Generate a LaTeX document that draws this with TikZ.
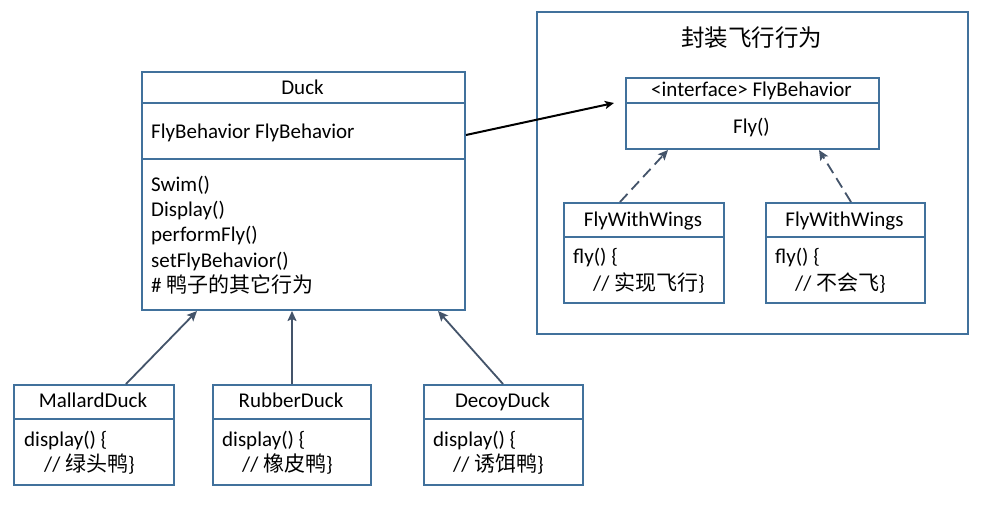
\documentclass[tikz,border=0pt]{standalone}
\usepackage{fontspec}
\setmainfont{Carlito}
\newfontfamily\cjk{Noto Sans CJK SC}
\usetikzlibrary{calc,arrows.meta}
\definecolor{boxblue}{HTML}{41719C}
\definecolor{arrgray}{HTML}{44546A}
\newcommand{\fsz}{\fontsize{21}{25}\selectfont}
\begin{document}
\begin{tikzpicture}[x=1pt,y=-1pt,
  box/.style={draw=boxblue, line width=2pt, inner sep=0pt, fill=white, anchor=north west},
  divline/.style={draw=boxblue, line width=2pt},
  txt/.style={inner sep=0pt, font=\fsz, text=black},
  ttl/.style={txt, anchor=base},
  lft/.style={txt, anchor=base west},
  inh/.style={draw=arrgray, line width=1.8pt, -{Stealth[length=10pt,width=9pt,inset=2pt]}},
  realize/.style={inh, dash pattern=on 11pt off 6pt},
  assoc/.style={draw=black, line width=2pt, -{Stealth[length=9pt,width=8pt,inset=2pt]}}
]
\fill[white] (0,0) rectangle (988,505);
\useasboundingbox (0,0) rectangle (988,505);

% group box
\node[box, minimum width=431pt, minimum height=322pt] (group) at (536,11) {};
\node[ttl, font=\fontsize{23.5}{28}\selectfont] (grouptitle) at (751.5,47) {\cjk 封装飞行行为};

% Duck
\node[box, minimum width=323pt, minimum height=238pt] (duck) at (141,71) {};
\draw[divline] ($(duck.north west)+(0,32)$) -- ($(duck.north east)+(0,32)$);
\draw[divline] ($(duck.north west)+(0,88)$) -- ($(duck.north east)+(0,88)$);
\node[ttl] (ducktitle) at (302.5,95) {Duck};
\node[lft] (duckattr) at (151,139) {FlyBehavior FlyBehavior};
\node[lft] (m1) at (151,192) {Swim()};
\node[lft] (m2) at (151,217) {Display()};
\node[lft] (m3) at (151,242) {performFly()};
\node[lft] (m4) at (151,267) {setFlyBehavior()};
\node[lft] (m5) at (151,292) {\# {\cjk 鸭子的其它行为}};

% interface
\node[box, minimum width=253pt, minimum height=71pt] (iface) at (625,77) {};
\draw[divline] ($(iface.north west)+(0,26)$) -- ($(iface.north east)+(0,26)$);
\node[ttl] (ifacetitle) at (751.5,97) {<interface> FlyBehavior};
\node[ttl] (ifacefly) at (751.5,134) {Fly()};

% FlyWithWings 1
\node[box, minimum width=160pt, minimum height=100pt] (fwa) at (563,202) {};
\draw[divline] ($(fwa.north west)+(0,35)$) -- ($(fwa.north east)+(0,35)$);
\node[ttl] (fwatitle) at (643,226) {FlyWithWings};
\node[lft] (fwaa) at (573,264) {fly() \{};
\node[lft] (fwab) at (593,290) {// {\cjk 实现飞行}\}};

% FlyWithWings 2
\node[box, minimum width=159pt, minimum height=100pt] (fwb) at (765,202) {};
\draw[divline] ($(fwb.north west)+(0,35)$) -- ($(fwb.north east)+(0,35)$);
\node[ttl] (fwbtitle) at (844.5,226) {FlyWithWings};
\node[lft] (fwba) at (775,264) {fly() \{};
\node[lft] (fwbb) at (795,290) {// {\cjk 不会飞}\}};

% MallardDuck
\node[box, minimum width=160pt, minimum height=100pt] (mallard) at (13,384) {};
\draw[divline] ($(mallard.north west)+(0,35)$) -- ($(mallard.north east)+(0,35)$);
\node[ttl] (mallardtitle) at (93,407) {MallardDuck};
\node[lft] (mallarda) at (24,446) {display() \{};
\node[lft] (mallardb) at (44,471) {// {\cjk 绿头鸭}\}};

% RubberDuck
\node[box, minimum width=158pt, minimum height=100pt] (rubber) at (212,384) {};
\draw[divline] ($(rubber.north west)+(0,35)$) -- ($(rubber.north east)+(0,35)$);
\node[ttl] (rubbertitle) at (291,407) {RubberDuck};
\node[lft] (rubbera) at (222,446) {display() \{};
\node[lft] (rubberb) at (242,471) {// {\cjk 橡皮鸭}\}};

% DecoyDuck
\node[box, minimum width=159pt, minimum height=100pt] (decoy) at (423,384) {};
\draw[divline] ($(decoy.north west)+(0,35)$) -- ($(decoy.north east)+(0,35)$);
\node[ttl] (decoytitle) at (502.5,407) {DecoyDuck};
\node[lft] (decoya) at (433,446) {display() \{};
\node[lft] (decoyb) at (453,471) {// {\cjk 诱饵鸭}\}};

% connectors
\draw[inh] ($(mallard.north west)+(113,0)$) -- ($(duck.south west)+(56,0)$);
\draw[inh] (rubber.north) -- (rubber.north |- duck.south);
\draw[inh] ($(decoy.north west)+(80,0)$) -- ($(duck.south west)+(297,0)$);
\draw[realize] ($(fwa.north west)+(57,0)$) -- ($(iface.south west)+(43,0)$);
\draw[realize] ($(fwb.north west)+(86,0)$) -- ($(iface.south west)+(194,0)$);
\draw[assoc] ($(duck.north east)+(0,64)$) -- ($(iface.north west)+(-11,26)$);
\end{tikzpicture}
\end{document}
